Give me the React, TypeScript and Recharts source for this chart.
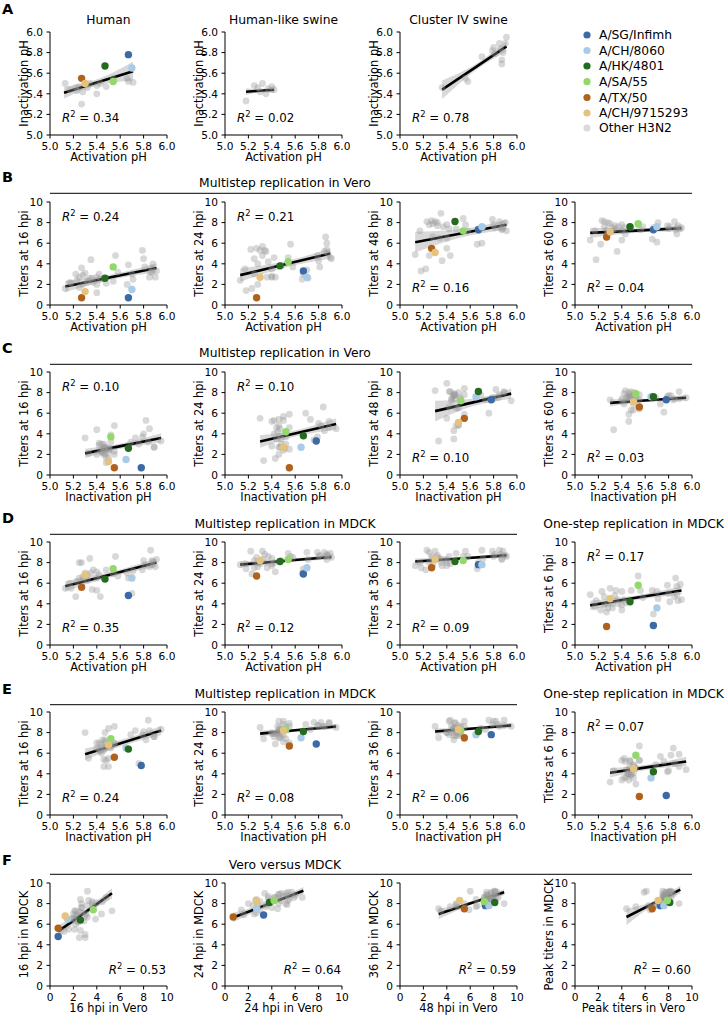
import React from "react";
import { ComposedChart, Area, Line, Scatter, XAxis, YAxis } from "recharts";

const FONT = "'DejaVu Sans', sans-serif";

// highlighted strains, legend order
const strainNames = ["A/SG/Infimh", "A/CH/8060", "A/HK/4801", "A/SA/55", "A/TX/50", "A/CH/9715293"];
const strainAct = [5.67, 5.7, 5.47, 5.54, 5.27, 5.3];
const strainInact = [5.78, 5.65, 5.67, 5.52, 5.55, 5.5];
const strainVero16 = [0.7, 1.5, 2.6, 3.7, 0.7, 1.3];
const strainVero24 = [3.3, 2.7, 3.8, 4.2, 0.7, 2.7];
const strainVero48 = [7.3, 7.6, 8.1, 7.2, 5.5, 5.1];
const strainVero60 = [7.3, 7.6, 7.6, 7.9, 6.6, 7.1];
const strainMdck16 = [4.8, 6.5, 6.4, 7.4, 5.6, 6.8];
const strainMdck24 = [6.9, 7.5, 8.1, 8.3, 6.7, 8.2];
const strainMdck36 = [7.8, 7.8, 8.1, 8.2, 7.5, 8.3];
const strainOneStep6 = [1.9, 3.6, 4.2, 5.8, 1.8, 4.5];

// other H3N2 strains (h = human, s = human-like swine, c = cluster IV swine)
const otherHost = ["h", "h", "h", "s", "h", "h", "s", "h", "h", "s", "s", "h", "s", "h", "s", "c", "s", "h", "h", "s",
  "s", "h", "h", "h", "c", "c", "h", "h", "c", "h", "c", "c", "c", "c", "c", "c", "c", "c", "c", "c"];
const otherAct = [5.13, 5.17, 5.22, 5.18, 5.23, 5.25, 5.25, 5.27, 5.28, 5.28, 5.3, 5.32, 5.32, 5.34, 5.35, 5.36, 5.37, 5.4, 5.4, 5.4,
  5.42, 5.43, 5.48, 5.54, 5.56, 5.58, 5.66, 5.67, 5.7, 5.71, 5.79, 5.8, 5.81, 5.85, 5.86, 5.87, 5.87, 5.88, 5.9, 5.91];
const otherInact = [5.5, 5.44, 5.46, 5.33, 5.43, 5.47, 5.48, 5.3, 5.42, 5.46, 5.42, 5.46, 5.5, 5.5, 5.4, 5.46, 5.45, 5.4, 5.48, 5.47,
  5.44, 5.5, 5.47, 5.55, 5.55, 5.52, 5.55, 5.52, 5.76, 5.51, 5.82, 5.85, 5.79, 5.89, 5.84, 5.73, 5.69, 5.8, 5.89, 5.95];
const otherVero16 = [1.6, 2.2, 3.0, 2.1, 2.4, 2.7, 1.7, 3.6, 2.9, 2.0, 3.1, 2.4, 2.2, 2.6, 4.4, 2.6, 2.2, 2.0, 1.2, 2.7,
  3.0, 2.5, 2.1, 2.3, 4.8, 3.2, 2.0, 3.9, 3.0, 2.5, 5.3, 4.5, 3.7, 2.7, 3.2, 3.6, 3.2, 4.0, 2.7, 3.3];
const otherVero24 = [2.4, 3.5, 5.4, 1.4, 1.6, 4.5, 3.0, 5.5, 4.0, 2.0, 5.3, 4.8, 5.7, 5.3, 5.2, 2.7, 4.2, 2.8, 3.5, 2.7,
  4.6, 2.7, 3.8, 4.6, 5.9, 3.7, 2.5, 3.0, 3.4, 2.6, 4.8, 4.3, 3.7, 5.2, 6.6, 5.4, 6.0, 5.0, 4.6, 4.5];
const otherVero48 = [4.9, 7.2, 3.5, 3.3, 8.1, 7.8, 4.8, 8.2, 6.6, 7.9, 8.1, 7.7, 8.0, 6.5, 8.9, 4.3, 7.6, 5.5, 6.5, 7.8,
  7.4, 4.8, 7.4, 8.4, 7.8, 7.2, 5.9, 7.4, 6.0, 7.5, 8.3, 7.8, 7.5, 8.1, 7.5, 7.3, 7.8, 7.4, 8.0, 7.2];
const otherVero60 = [6.3, 7.2, 5.9, 4.4, 8.2, 7.6, 8.1, 7.3, 6.9, 8.0, 7.9, 7.5, 7.2, 7.7, 7.4, 5.2, 7.6, 7.2, 6.3, 7.8,
  7.5, 6.9, 7.5, 7.8, 7.3, 7.6, 6.4, 7.5, 6.1, 8.0, 7.7, 7.4, 7.6, 8.1, 7.3, 6.9, 7.5, 7.7, 7.4, 7.5];
const otherMdck16 = [5.5, 6.0, 4.7, 5.5, 6.2, 8.0, 6.5, 8.0, 6.3, 6.6, 7.0, 6.3, 6.8, 8.4, 7.0, 5.4, 7.3, 6.5, 5.3, 7.1,
  6.8, 4.7, 7.3, 6.9, 8.6, 6.7, 7.0, 6.5, 5.0, 7.2, 7.3, 8.2, 7.8, 7.6, 9.2, 8.2, 7.8, 8.1, 7.6, 8.3];
const otherMdck24 = [7.8, 7.9, 9.1, 7.4, 6.9, 7.5, 8.2, 8.5, 7.6, 8.0, 7.9, 8.3, 9.1, 8.8, 8.0, 7.5, 8.6, 7.9, 7.7, 8.4,
  8.0, 7.1, 8.2, 8.9, 8.6, 8.5, 7.0, 7.4, 9.0, 8.3, 9.0, 8.6, 8.7, 9.0, 8.6, 8.3, 8.8, 8.7, 8.9, 8.5];
const otherMdck36 = [7.7, 8.0, 7.3, 7.5, 9.2, 9.0, 8.0, 8.6, 7.8, 8.4, 9.1, 8.5, 8.7, 8.4, 8.0, 7.7, 8.3, 8.0, 7.7, 8.3,
  8.6, 7.9, 8.9, 8.6, 9.1, 8.6, 7.4, 8.0, 9.2, 8.4, 9.1, 8.6, 8.8, 9.2, 8.8, 8.3, 8.4, 9.1, 8.7, 8.6];
const otherOneStep6 = [4.9, 3.7, 3.4, 4.3, 5.2, 4.7, 3.9, 3.2, 3.6, 4.0, 5.5, 4.0, 3.6, 4.8, 5.3, 4.4, 4.0, 3.4, 3.9, 5.2,
  4.4, 4.1, 5.3, 6.7, 5.3, 4.6, 5.3, 3.0, 5.2, 4.5, 5.8, 5.0, 4.2, 4.7, 6.5, 5.7, 4.9, 4.3, 5.9, 4.4];

// regression fits per panel: x at start / middle / end, fitted y, CI half width
const panelIds = ["A1", "A2", "A3", "B1", "B2", "B3", "B4", "C1", "C2", "C3", "C4",
  "D1", "D2", "D3", "D4", "E1", "E2", "E3", "E4", "F1", "F2", "F3", "F4"];
const fitX = [
  [5.12, 5.415, 5.71], [5.18, 5.3, 5.42], [5.36, 5.635, 5.91],
  [5.13, 5.52, 5.91], [5.13, 5.515, 5.9], [5.13, 5.52, 5.91], [5.13, 5.52, 5.91],
  [5.3, 5.625, 5.95], [5.3, 5.625, 5.95], [5.3, 5.625, 5.95], [5.3, 5.625, 5.95],
  [5.13, 5.52, 5.91], [5.13, 5.52, 5.91], [5.13, 5.52, 5.91], [5.13, 5.52, 5.91],
  [5.3, 5.625, 5.95], [5.3, 5.625, 5.95], [5.3, 5.625, 5.95], [5.3, 5.625, 5.95],
  [0.7, 3.0, 5.3], [0.7, 3.7, 6.7], [3.3, 6.1, 8.9], [4.4, 6.7, 9.0],
];
const fitY = [
  [5.41, 5.515, 5.62], [5.42, 5.43, 5.44], [5.44, 5.65, 5.86],
  [1.8, 2.7, 3.6], [2.9, 3.95, 5.0], [6.1, 6.95, 7.8], [7.0, 7.22, 7.45],
  [2.1, 2.85, 3.6], [3.25, 4.1, 4.95], [6.2, 7.05, 7.9], [7.0, 7.25, 7.5],
  [5.7, 6.85, 8.0], [7.8, 8.18, 8.55], [8.1, 8.4, 8.7], [3.85, 4.58, 5.3],
  [5.9, 7.05, 8.2], [7.9, 8.25, 8.6], [8.1, 8.4, 8.7], [4.1, 4.65, 5.2],
  [5.3, 7.15, 9.0], [6.65, 7.95, 9.25], [7.0, 8.05, 9.1], [6.7, 8.02, 9.35],
];
const bandHalf = [
  [0.055, 0.03, 0.09], [0.035, 0.015, 0.035], [0.09, 0.03, 0.05],
  [0.55, 0.25, 0.45], [0.65, 0.3, 0.5], [1.0, 0.4, 0.5], [0.5, 0.2, 0.3],
  [0.45, 0.25, 0.45], [0.6, 0.3, 0.55], [1.0, 0.35, 0.5], [0.35, 0.15, 0.3],
  [0.5, 0.25, 0.4], [0.3, 0.15, 0.25], [0.3, 0.12, 0.25], [0.45, 0.22, 0.4],
  [0.55, 0.3, 0.45], [0.3, 0.15, 0.25], [0.3, 0.15, 0.25], [0.45, 0.25, 0.45],
  [0.6, 0.25, 0.5], [0.45, 0.2, 0.35], [0.5, 0.15, 0.3], [0.8, 0.2, 0.4],
];
const r2Values = ["0.34", "0.02", "0.78", "0.24", "0.21", "0.16", "0.04", "0.10", "0.10", "0.10", "0.03",
  "0.35", "0.12", "0.09", "0.17", "0.24", "0.08", "0.06", "0.07", "0.53", "0.64", "0.59", "0.60"];

const STRAIN_COLORS = ["#3c6aa6", "#a9cbe8", "#256b1f", "#93d86a", "#b0621c", "#e5c27e"];
const OTHER_COLOR = "#dadada";

type Key = "act" | "inact" | "v16" | "v24" | "v48" | "v60" | "m16" | "m24" | "m36" | "os6" | "pv" | "pm";
type Strain = Record<Key, number> & { host: string; strain: number };

const makeStrain = (host: string, strain: number, v: number[]): Strain => ({
  host, strain,
  act: v[0], inact: v[1], v16: v[2], v24: v[3], v48: v[4], v60: v[5], m16: v[6], m24: v[7], m36: v[8], os6: v[9],
  pv: Math.max(v[2], v[3], v[4], v[5]),
  pm: Math.max(v[6], v[7], v[8]),
});

const others = otherHost.map((h, i) =>
  makeStrain(h, -1, [otherAct[i], otherInact[i], otherVero16[i], otherVero24[i], otherVero48[i], otherVero60[i],
    otherMdck16[i], otherMdck24[i], otherMdck36[i], otherOneStep6[i]]));
const highlighted = strainNames.map((_, i) =>
  makeStrain("h", i, [strainAct[i], strainInact[i], strainVero16[i], strainVero24[i], strainVero48[i], strainVero60[i],
    strainMdck16[i], strainMdck24[i], strainMdck36[i], strainOneStep6[i]]));

type Spec = { row: number; col: number; x: Key; y: Key; host?: string; title?: string; xLabel: string; yLabel: string; r2At: "tl" | "bl" | "br" };

const ACT = "Activation pH";
const INACT = "Inactivation pH";
const panels: Spec[] = [
  { row: 0, col: 0, x: "act", y: "inact", host: "h", title: "Human", xLabel: ACT, yLabel: INACT, r2At: "bl" },
  { row: 0, col: 1, x: "act", y: "inact", host: "s", title: "Human-like swine", xLabel: ACT, yLabel: INACT, r2At: "bl" },
  { row: 0, col: 2, x: "act", y: "inact", host: "c", title: "Cluster IV swine", xLabel: ACT, yLabel: INACT, r2At: "bl" },
  { row: 1, col: 0, x: "act", y: "v16", xLabel: ACT, yLabel: "Titers at 16 hpi", r2At: "tl" },
  { row: 1, col: 1, x: "act", y: "v24", xLabel: ACT, yLabel: "Titers at 24 hpi", r2At: "tl" },
  { row: 1, col: 2, x: "act", y: "v48", xLabel: ACT, yLabel: "Titers at 48 hpi", r2At: "bl" },
  { row: 1, col: 3, x: "act", y: "v60", xLabel: ACT, yLabel: "Titers at 60 hpi", r2At: "bl" },
  { row: 2, col: 0, x: "inact", y: "v16", xLabel: INACT, yLabel: "Titers at 16 hpi", r2At: "tl" },
  { row: 2, col: 1, x: "inact", y: "v24", xLabel: INACT, yLabel: "Titers at 24 hpi", r2At: "tl" },
  { row: 2, col: 2, x: "inact", y: "v48", xLabel: INACT, yLabel: "Titers at 48 hpi", r2At: "bl" },
  { row: 2, col: 3, x: "inact", y: "v60", xLabel: INACT, yLabel: "Titers at 60 hpi", r2At: "bl" },
  { row: 3, col: 0, x: "act", y: "m16", xLabel: ACT, yLabel: "Titers at 16 hpi", r2At: "bl" },
  { row: 3, col: 1, x: "act", y: "m24", xLabel: ACT, yLabel: "Titers at 24 hpi", r2At: "bl" },
  { row: 3, col: 2, x: "act", y: "m36", xLabel: ACT, yLabel: "Titers at 36 hpi", r2At: "bl" },
  { row: 3, col: 3, x: "act", y: "os6", xLabel: ACT, yLabel: "Titers at 6 hpi", r2At: "tl" },
  { row: 4, col: 0, x: "inact", y: "m16", xLabel: INACT, yLabel: "Titers at 16 hpi", r2At: "bl" },
  { row: 4, col: 1, x: "inact", y: "m24", xLabel: INACT, yLabel: "Titers at 24 hpi", r2At: "bl" },
  { row: 4, col: 2, x: "inact", y: "m36", xLabel: INACT, yLabel: "Titers at 36 hpi", r2At: "bl" },
  { row: 4, col: 3, x: "inact", y: "os6", xLabel: INACT, yLabel: "Titers at 6 hpi", r2At: "tl" },
  { row: 5, col: 0, x: "v16", y: "m16", xLabel: "16 hpi in Vero", yLabel: "16 hpi in MDCK", r2At: "br" },
  { row: 5, col: 1, x: "v24", y: "m24", xLabel: "24 hpi in Vero", yLabel: "24 hpi in MDCK", r2At: "br" },
  { row: 5, col: 2, x: "v48", y: "m36", xLabel: "48 hpi in Vero", yLabel: "36 hpi in MDCK", r2At: "br" },
  { row: 5, col: 3, x: "pv", y: "pm", xLabel: "Peak titers in Vero", yLabel: "Peak titers in MDCK", r2At: "br" },
];

const COL_X = [50, 225, 400, 575];
const ROW_TOP = [32, 202, 372, 542, 712, 883];
const PW = 117;
const PH = 103;
const YAXIS_W = 50;
const XAXIS_H = 30;
const M_TOP = 6;
const M_RIGHT = 12;

const PH_TICKS = [5, 5.2, 5.4, 5.6, 5.8, 6];
const TITER_TICKS = [0, 2, 4, 6, 8, 10];
const tickStyle = { fontSize: 10.6, fill: "#000", fontFamily: FONT };

const grayDot = (p: any) => <circle cx={p.cx} cy={p.cy} r={3.4} fill="#999" fillOpacity={0.38} />;
const colorDot = (p: any) => <circle cx={p.cx} cy={p.cy} r={3.7} fill={p.payload.color} />;

function ScatterPanel({ spec, i }: { spec: Spec; i: number }) {
  const left = COL_X[spec.col];
  const top = ROW_TOP[spec.row];
  const sel = (list: Strain[]) => list.filter((s) => !spec.host || s.host === spec.host);
  const gray = sel(others).map((s) => ({ x: s[spec.x], y: s[spec.y] }));
  const hi = sel(highlighted).map((s) => ({ x: s[spec.x], y: s[spec.y], color: STRAIN_COLORS[s.strain] }));
  const fit = fitX[i].map((x, k) => ({
    x,
    fit: fitY[i][k],
    band: [fitY[i][k] - bandHalf[i][k], fitY[i][k] + bandHalf[i][k]],
  }));
  const xPh = spec.x === "act" || spec.x === "inact";
  const yPh = spec.y === "inact";
  const fmt = (isPh: boolean) => (v: number) => (isPh ? v.toFixed(1) : String(v));

  return (
    <div style={{ position: "absolute", left: left - YAXIS_W, top: top - M_TOP }}>
      <ComposedChart
        width={YAXIS_W + PW + M_RIGHT}
        height={M_TOP + PH + XAXIS_H}
        data={fit}
        margin={{ top: M_TOP, right: M_RIGHT, bottom: 0, left: 0 }}
      >
        <XAxis
          type="number"
          dataKey="x"
          domain={xPh ? [5, 6] : [0, 10]}
          ticks={xPh ? PH_TICKS : TITER_TICKS}
          tickFormatter={fmt(xPh)}
          allowDataOverflow
          interval={0}
          height={XAXIS_H}
          tick={tickStyle}
          tickSize={3.5}
          tickMargin={4}
          axisLine={{ stroke: "#000" }}
          tickLine={{ stroke: "#000" }}
        />
        <YAxis
          type="number"
          dataKey="y"
          domain={yPh ? [5, 6] : [0, 10]}
          ticks={yPh ? PH_TICKS : TITER_TICKS}
          tickFormatter={fmt(yPh)}
          allowDataOverflow
          interval={0}
          width={YAXIS_W}
          tick={tickStyle}
          tickSize={3.5}
          tickMargin={3.5}
          axisLine={{ stroke: "#000" }}
          tickLine={{ stroke: "#000" }}
        />
        <Area dataKey="band" type="monotone" fill="#9e9e9e" fillOpacity={0.4} stroke="none" isAnimationActive={false} />
        <Scatter data={gray} shape={grayDot} isAnimationActive={false} />
        <Line dataKey="fit" stroke="#000" strokeWidth={2.6} dot={false} activeDot={false} isAnimationActive={false} />
        <Scatter data={hi} shape={colorDot} isAnimationActive={false} />
      </ComposedChart>
    </div>
  );
}

function R2({ x, y, value, anchor }: { x: number; y: number; value: string; anchor: "start" | "end" }) {
  return (
    <text x={x} y={y} fontSize={11.8} textAnchor={anchor} fill="#000">
      <tspan fontStyle="italic">R</tspan>
      <tspan dy={-4.8} fontSize={8.4}>2</tspan>
      <tspan dy={4.8}>{"\u00a0= " + value}</tspan>
    </text>
  );
}

const headers = [
  { text: "Multistep replication in Vero", base: 186.7, line: 193.3, x2: 692, letter: "B", lb: 182 },
  { text: "Multistep replication in Vero", base: 357, line: 364.3, x2: 692, letter: "C", lb: 353 },
  { text: "Multistep replication in MDCK", base: 527.7, line: 534.3, x2: 517, letter: "D", lb: 523 },
  { text: "Multistep replication in MDCK", base: 698.3, line: 704.7, x2: 517, letter: "E", lb: 694 },
  { text: "Vero versus MDCK", base: 869, line: 874.3, x2: 692, letter: "F", lb: 865 },
];

const LEGEND_Y = [35, 50.5, 66, 81.7, 97.5, 113, 128];

function Overlay() {
  return (
    <svg width={728} height={1018} style={{ position: "absolute", left: 0, top: 0, pointerEvents: "none" }} fontFamily={FONT}>
      <text x={2} y={14} fontSize={14.5} fontWeight="bold">A</text>
      {headers.map((h) => (
        <g key={h.letter}>
          <text x={2} y={h.lb} fontSize={14.5} fontWeight="bold">{h.letter}</text>
          <text x={285} y={h.base} fontSize={12.3} textAnchor="middle">{h.text}</text>
          <line x1={50} x2={h.x2} y1={h.line} y2={h.line} stroke="#000" strokeWidth={1} />
          {h.x2 < 600 && (
            <text x={COL_X[3] + PW / 2} y={h.base} fontSize={12.3} textAnchor="middle">One-step replication in MDCK</text>
          )}
        </g>
      ))}
      {panels.map((p, i) => {
        const left = COL_X[p.col];
        const top = ROW_TOP[p.row];
        const r2 =
          p.r2At === "tl" ? { x: left + 12, y: top + 18.5, a: "start" as const } :
          p.r2At === "bl" ? { x: left + 12, y: top + PH - 12.8, a: "start" as const } :
          { x: left + 116, y: top + PH - 12.3, a: "end" as const };
        return (
          <g key={panelIds[i]}>
            {p.title && (
              <text x={left + PW / 2} y={24.3} fontSize={12.3} textAnchor="middle">{p.title}</text>
            )}
            <text x={left + PW / 2} y={top + PH + 25.5} fontSize={11.4} textAnchor="middle">{p.xLabel}</text>
            <text transform={`translate(${left - 22},${top + PH / 2}) rotate(-90)`} fontSize={11.4} textAnchor="middle">{p.yLabel}</text>
            <R2 x={r2.x} y={r2.y} value={r2Values[i]} anchor={r2.a} />
          </g>
        );
      })}
      {[...strainNames, "Other H3N2"].map((name, k) => (
        <g key={name}>
          <circle cx={587} cy={LEGEND_Y[k]} r={3.6} fill={k < STRAIN_COLORS.length ? STRAIN_COLORS[k] : OTHER_COLOR} />
          <text x={599} y={LEGEND_Y[k] + 4.4} fontSize={12.3}>{name}</text>
        </g>
      ))}
    </svg>
  );
}

export default function App() {
  return (
    <div style={{ position: "absolute", left: 0, top: 0, width: 728, height: 1018, background: "#fff", fontFamily: FONT }}>
      {panels.map((p, i) => (
        <ScatterPanel key={panelIds[i]} spec={p} i={i} />
      ))}
      <Overlay />
    </div>
  );
}
